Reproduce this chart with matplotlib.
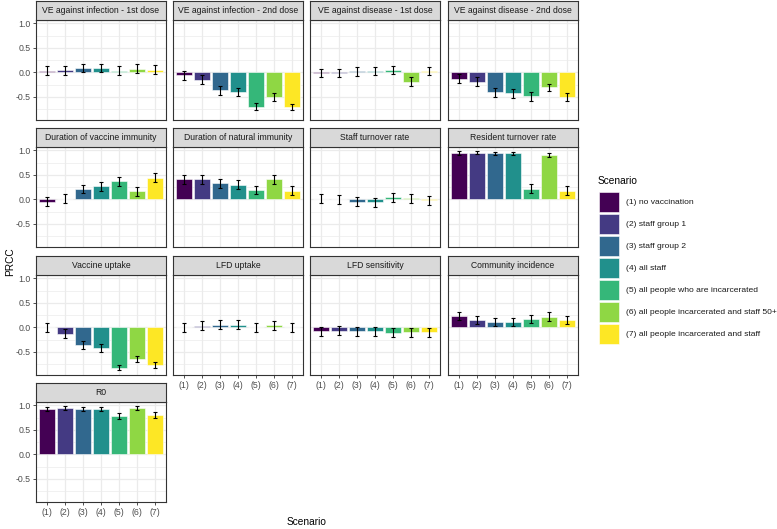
import matplotlib
matplotlib.use("Agg")
import matplotlib.pyplot as plt
from matplotlib.patches import Patch
import numpy as np

plt.rcParams['font.family'] = ['Liberation Sans', 'DejaVu Sans']

# ---------------- data ----------------
scenarios = ["(1)", "(2)", "(3)", "(4)", "(5)", "(6)", "(7)"]
scenario_labels = [
    "(1) no vaccination",
    "(2) staff group 1",
    "(3) staff group 2",
    "(4) all staff",
    "(5) all people who are incarcerated",
    "(6) all people incarcerated and staff 50+",
    "(7) all people incarcerated and staff",
]
colors = ["#440154", "#443A83", "#31688E", "#21908C", "#35B779", "#8FD744", "#FDE725"]

panel_titles = [
    "VE against infection - 1st dose", "VE against infection - 2nd dose",
    "VE against disease - 1st dose", "VE against disease - 2nd dose",
    "Duration of vaccine immunity", "Duration of natural immunity",
    "Staff turnover rate", "Resident turnover rate",
    "Vaccine uptake", "LFD uptake", "LFD sensitivity", "Community incidence",
    "R0",
]

ve_inf_1 = [0.03, 0.04, 0.09, 0.09, 0.03, 0.07, 0.05]
ve_inf_2 = [-0.06, -0.15, -0.37, -0.41, -0.70, -0.51, -0.71]
ve_dis_1 = [-0.01, -0.01, 0.02, 0.02, 0.05, -0.19, 0.03]
ve_dis_2 = [-0.13, -0.19, -0.41, -0.43, -0.49, -0.31, -0.50]
dur_vacc = [-0.05, 0.01, 0.21, 0.27, 0.37, 0.16, 0.44]
dur_nat = [0.41, 0.41, 0.33, 0.30, 0.19, 0.41, 0.18]
staff_turn = [0.01, 0.00, -0.05, -0.06, 0.04, 0.02, -0.02]
res_turn = [0.95, 0.95, 0.94, 0.94, 0.22, 0.90, 0.18]
vacc_uptake = [0.00, -0.13, -0.36, -0.42, -0.83, -0.65, -0.77]
lfd_uptake = [0.00, 0.03, 0.05, 0.05, 0.00, 0.04, 0.00]
lfd_sens = [-0.08, -0.07, -0.08, -0.08, -0.11, -0.10, -0.10]
comm_inc = [0.23, 0.15, 0.11, 0.11, 0.17, 0.22, 0.15]
r0 = [0.93, 0.94, 0.93, 0.93, 0.79, 0.95, 0.80]

err_ve_inf_1 = [0.09, 0.09, 0.09, 0.09, 0.09, 0.09, 0.09]
err_ve_inf_2 = [0.09, 0.09, 0.09, 0.08, 0.065, 0.08, 0.065]
err_ve_dis_1 = [0.08, 0.08, 0.09, 0.08, 0.08, 0.09, 0.08]
err_ve_dis_2 = [0.09, 0.09, 0.09, 0.09, 0.09, 0.08, 0.08]
err_dur_vacc = [0.09, 0.09, 0.09, 0.09, 0.09, 0.09, 0.09]
err_dur_nat = [0.09, 0.09, 0.09, 0.09, 0.09, 0.09, 0.09]
err_staff_turn = [0.09, 0.09, 0.09, 0.09, 0.09, 0.09, 0.09]
err_res_turn = [0.035, 0.03, 0.035, 0.035, 0.09, 0.04, 0.09]
err_vacc_uptake = [0.09, 0.09, 0.08, 0.08, 0.05, 0.065, 0.06]
err_lfd_uptake = [0.09, 0.09, 0.09, 0.09, 0.09, 0.09, 0.09]
err_lfd_sens = [0.09, 0.09, 0.09, 0.09, 0.09, 0.09, 0.09]
err_comm_inc = [0.09, 0.09, 0.09, 0.09, 0.09, 0.09, 0.09]
err_r0 = [0.04, 0.04, 0.045, 0.045, 0.06, 0.035, 0.065]

values = [ve_inf_1, ve_inf_2, ve_dis_1, ve_dis_2, dur_vacc, dur_nat, staff_turn,
          res_turn, vacc_uptake, lfd_uptake, lfd_sens, comm_inc, r0]
errors = [err_ve_inf_1, err_ve_inf_2, err_ve_dis_1, err_ve_dis_2, err_dur_vacc,
          err_dur_nat, err_staff_turn, err_res_turn, err_vacc_uptake,
          err_lfd_uptake, err_lfd_sens, err_comm_inc, err_r0]

yticks = [-0.5, 0.0, 0.5, 1.0]
ytick_labels = ["-0.5", "0.0", "0.5", "1.0"]

# ---------------- layout ----------------
W, H = 777, 529
fig = plt.figure(figsize=(W / 100, H / 100), dpi=100)

col_x = [36, 173, 310, 448]
pw = 130
row_top = [20, 147, 275, 402]
ph = 100
sh = 19

TXT = "#4D4D4D"
FRAME = "#333333"
fs_tick = 6.3
fs_strip = 6.2

def px_axes(x, ytop, w, h):
    return fig.add_axes([x / W, 1 - (ytop + h) / H, w / W, h / H])

x = np.arange(1, 8)
n = len(panel_titles)
for i in range(n):
    r, c = divmod(i, 4)
    ax = px_axes(col_x[c], row_top[r], pw, ph)
    ax.set_xlim(0.4, 7.6)
    ax.set_ylim(-0.975, 1.07)
    ax.set_facecolor("white")
    # grid
    for yv in [-0.75, -0.25, 0.25, 0.75]:
        ax.axhline(yv, color="#EBEBEB", lw=0.5, zorder=0)
    for yv in yticks:
        ax.axhline(yv, color="#EBEBEB", lw=0.9, zorder=0)
    for xv in x:
        ax.axvline(xv, color="#EBEBEB", lw=0.9, zorder=0)
    ax.bar(x, values[i], width=0.9, color=colors, edgecolor="white", linewidth=0.4, zorder=2)
    ax.errorbar(x, values[i], yerr=errors[i], fmt="none", ecolor="black",
                elinewidth=0.8, capsize=1.6, capthick=0.8, zorder=3)
    for sp in ax.spines.values():
        sp.set_color(FRAME)
        sp.set_linewidth(0.8)
    ax.set_yticks(yticks)
    ax.set_xticks(x)
    ax.tick_params(length=2, width=0.6, color=FRAME, labelsize=fs_tick,
                   labelcolor=TXT, pad=2)
    if c == 0:
        ax.set_yticklabels(ytick_labels)
    else:
        ax.tick_params(axis="y", length=0, labelleft=False)
    bottom_panel = (i + 4 >= n)
    if bottom_panel:
        ax.set_xticklabels(scenarios)
    else:
        ax.tick_params(axis="x", length=0, labelbottom=False)
    # strip
    sax = px_axes(col_x[c], row_top[r] - sh, pw, sh)
    sax.set_facecolor("#D9D9D9")
    sax.set_xticks([]); sax.set_yticks([])
    for sp in sax.spines.values():
        sp.set_color(FRAME)
        sp.set_linewidth(0.8)
    sax.text(0.5, 0.5, panel_titles[i], ha="center", va="center",
             fontsize=fs_strip, color="#1A1A1A", transform=sax.transAxes)

# axis titles
fig.text(307 / W, 1 - 522 / H, "Scenario", ha="center", va="center", fontsize=7.3)
fig.text(10 / W, 1 - 262 / H, "PRCC", ha="center", va="center", rotation=90, fontsize=7.3)

# legend
fig.text(598 / W, 1 - 181 / H, "Scenario", ha="left", va="center", fontsize=7.3)
handles = [Patch(facecolor=col, edgecolor="white", linewidth=0.4) for col in colors]
leg = fig.legend(handles, scenario_labels, loc="upper left",
                 bbox_to_anchor=(599 / W, 1 - 192 / H), frameon=False,
                 fontsize=6.1, handlelength=2.36,
                 handleheight=3.25, labelspacing=0.24, handletextpad=0.8,
                 borderpad=0, borderaxespad=0)
for t in leg.get_texts():
    t.set_color("#1A1A1A")

fig.savefig("out.png", dpi=100)
